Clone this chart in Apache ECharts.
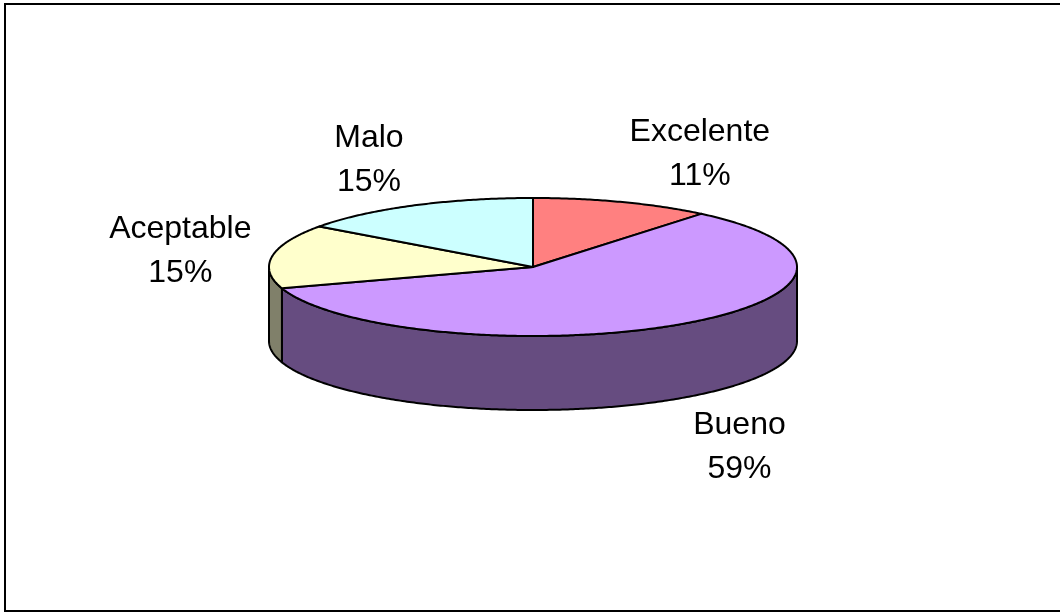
<!DOCTYPE html>
<html>
<head>
<meta charset="utf-8">
<script src="https://cdn.jsdelivr.net/npm/echarts@6/dist/echarts.min.js"></script>
<style>
  html, body { margin: 0; padding: 0; background: #ffffff; }
  #chart { width: 1060px; height: 614px; }
</style>
</head>
<body>
<div id="chart"></div>
<script>
// Survey answers, clockwise from 12 o'clock
const categories = ['Excelente', 'Bueno', 'Aceptable', 'Malo'];
const values = [11, 59, 15, 15];
const topColors = ['#FF8080', '#CC99FF', '#FFFFCC', '#CCFFFF'];
const sideColors = ['#804040', '#664C80', '#80806A', '#668080'];

const total = values.reduce((a, b) => a + b, 0);
const cum = [0];
values.forEach(v => cum.push(cum[cum.length - 1] + v));

// Tilted-disc geometry
const CX = 533, CY = 267, RX = 264, RY = 69, DEPTH = 74;
const LABEL_RX = 285, LABEL_RY = 124, LABEL_DY = 4;
const FONT_SIZE = 32, LINE_H = 44;
const FONT_FAMILY = '"Liberation Sans", Arial, sans-serif';

const measureCtx = document.createElement('canvas').getContext('2d');
measureCtx.font = FONT_SIZE + 'px ' + FONT_FAMILY;
function textWidth(s) { return measureCtx.measureText(s).width; }

function pt(theta, dy) {
  return [CX + RX * Math.sin(theta), CY - RY * Math.cos(theta) + (dy || 0)];
}
function arc(a, b, dy) {
  const n = Math.max(2, Math.ceil((b - a) / 0.01));
  const out = [];
  for (let k = 0; k <= n; k++) out.push(pt(a + (b - a) * k / n, dy));
  return out;
}

function renderItem(params, api) {
  const i = params.dataIndex;
  const v = api.value(1);
  const a0 = cum[i] / total * 2 * Math.PI;
  const a1 = a0 + v / total * 2 * Math.PI;
  const children = [];

  // visible front wall of the slice
  const s0 = Math.max(a0, Math.PI / 2), s1 = Math.min(a1, 3 * Math.PI / 2);
  if (s1 > s0) {
    const wall = arc(s0, s1, 0).concat(arc(s0, s1, DEPTH).reverse());
    children.push({
      type: 'polygon', z2: 1,
      shape: { points: wall },
      style: { fill: sideColors[i], stroke: '#000', lineWidth: 2, lineJoin: 'round' }
    });
  }

  // top face
  children.push({
    type: 'polygon', z2: 2,
    shape: { points: [[CX, CY]].concat(arc(a0, a1, 0)) },
    style: { fill: topColors[i], stroke: '#000', lineWidth: 2, lineJoin: 'round' }
  });

  // category + percentage label outside the slice
  const m = (a0 + a1) / 2, sn = Math.sin(m), cs = Math.cos(m);
  const name = categories[i];
  const pct = Math.round(v / total * 100) + '%';
  const w = Math.max(textWidth(name), textWidth(pct));
  const edgeX = CX + LABEL_RX * sn;
  const lx = edgeX + (sn >= 0 ? 1 : -1) * w / 2;
  const ly = CY - LABEL_RY * cs + LABEL_DY + (cs < 0 ? DEPTH : 0);
  children.push({
    type: 'text', z2: 3,
    style: {
      x: lx, y: ly,
      text: name + '\n' + pct,
      align: 'center', verticalAlign: 'middle',
      fontSize: FONT_SIZE, lineHeight: LINE_H,
      fontFamily: FONT_FAMILY, fill: '#000'
    }
  });

  return { type: 'group', children: children };
}

const chart = echarts.init(document.getElementById('chart'), null, { renderer: 'canvas' });
chart.setOption({
  backgroundColor: '#ffffff',
  animation: false,
  graphic: [{
    type: 'rect', z: -1,
    shape: { x: 5, y: 4, width: 1070, height: 607 },
    style: { fill: 'none', stroke: '#000', lineWidth: 2 }
  }],
  series: [{
    type: 'custom',
    coordinateSystem: 'none',
    renderItem: renderItem,
    data: categories.map((c, i) => [i, values[i]])
  }]
});
</script>
</body>
</html>
